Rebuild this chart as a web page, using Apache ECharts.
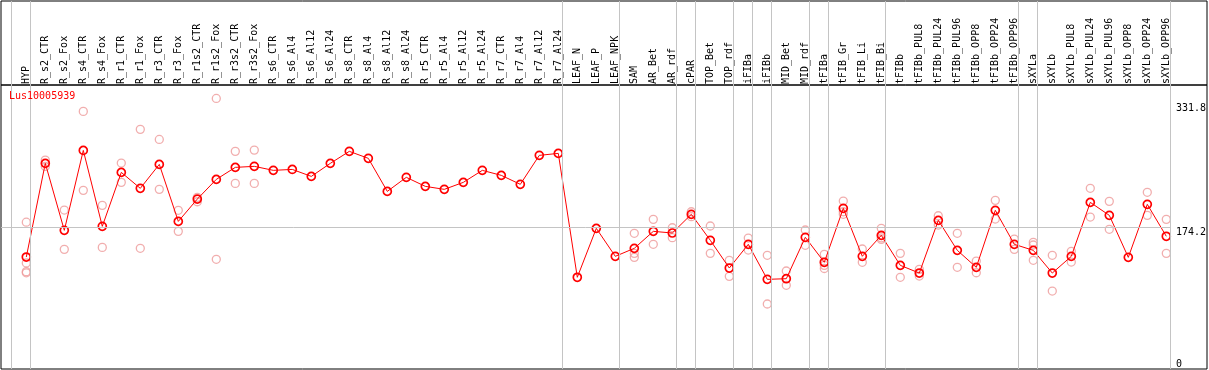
<!DOCTYPE html>
<html><head><meta charset="utf-8">
<script src="https://cdn.jsdelivr.net/npm/echarts@6/dist/echarts.min.js"></script>
<style>html,body{margin:0;padding:0;background:#fff}#c{width:1209px;height:370px}</style>
</head><body><div id="c"></div>
<script>
// ---------- data ----------
const chartTitle = 'Lus10005939';
const categories = ['HYP','R_s2_CTR','R_s2_Fox','R_s4_CTR','R_s4_Fox','R_r1_CTR','R_r1_Fox','R_r3_CTR','R_r3_Fox','R_r1s2_CTR','R_r1s2_Fox','R_r3s2_CTR','R_r3s2_Fox','R_s6_CTR','R_s6_Al4','R_s6_Al12','R_s6_Al24','R_s8_CTR','R_s8_Al4','R_s8_Al12','R_s8_Al24','R_r5_CTR','R_r5_Al4','R_r5_Al12','R_r5_Al24','R_r7_CTR','R_r7_Al4','R_r7_Al12','R_r7_Al24','LEAF_N','LEAF_P','LEAF_NPK','SAM','AR_Bet','AR_rdf','cPAR','TOP_Bet','TOP_rdf','iFIBa','iFIBb','MID_Bet','MID_rdf','tFIBa','tFIB_Gr','tFIB_Li','tFIB_Bi','tFIBb','tFIBb_PUL8','tFIBb_PUL24','tFIBb_PUL96','tFIBb_OPP8','tFIBb_OPP24','tFIBb_OPP96','sXYLa','sXYLb','sXYLb_PUL8','sXYLb_PUL24','sXYLb_PUL96','sXYLb_OPP8','sXYLb_OPP24','sXYLb_OPP96'];
const means = [136.6,255.9,170.6,272.4,175.7,244.4,224.1,254.6,182.0,210.4,
  235.5,250.8,252.1,247.0,248.2,239.3,255.9,271.2,262.3,220.2,
  238.1,226.6,222.8,231.7,247.0,240.6,229.2,266.1,268.6,110.8,
  173.1,137.5,147.7,169.3,167.2,191.0,157.9,122.6,152.8,108.2,
  109.0,161.7,129.9,198.6,137.5,164.2,126.0,116.2,183.3,145.1,
  123.5,196.1,152.8,145.1,116.2,137.5,206.2,189.7,136.2,203.7,
  163.0];
const replicates = [
  [181,129,118,116.5],[260,252],[196.4,146.4],[322.1,221.5],[202.4,148.9],
  [256.3,231.7],[299.2,147.7],[286.4,222.8],[196.1,169.3],[212.6,207],
  [338.6,133.7],[271.2,230.4],[272.8,230.4],
  [],[],[],[],[],[],[],[],[],[],[],[],[],[],[],[],
  [],[],[],
  [166.8,141.3,136.2],[184.6,152.8],[173.9,161.2],[194.3,188],[176.1,141.3],
  [132.4,112.0],[160.8,145.5],[138.8,76.8],[118.8,100.6],[171.0,151.5],
  [140.0,126,122],[207.9,194.3,191.0],[146.8,129.9],[173.1,159.1,161],
  [141.3,110.8],[120.9,112.4],[189.2,177.3],[166.8,123.5],[131.5,116.6],
  [208.8,185.0],[159.5,146.4],[155.3,151.9,132.4],[138.8,93.3],[143.9,130.2],
  [224.1,187.5],[207.5,171.9],[],[219.0,189.7],[184.6,141.3]
];
const groupSizes = [1,28,3,3,1,2,1,1,2,1,3,7,1,7];
const yTickLabels = [0, 174.2, 331.8];
const refValue = 174.2;

// ---------- layout / style ----------
const FONT = 'DejaVu Sans Mono';
const X_MIN = -1.3316, X_MAX = 62.142;
const SEP_OFFSET = 0.21;
const Y_MIN = -6, Y_MAX = 355.7;
const GRAY = '#c4c4c4';

const seps = [-1 + SEP_OFFSET];
let acc = -1;
groupSizes.forEach(g => { acc += g; seps.push(acc + SEP_OFFSET); });
const sepLines = seps.map(v => ({ xAxis: v }));
const repPoints = [];
replicates.forEach((arr, i) => arr.forEach(v => repPoints.push([i, v])));

const chart = echarts.init(document.getElementById('c'), null, { renderer: 'canvas' });
const labelStyle = { fontFamily: FONT, fontSize: 10, color: '#000' };
const option = {
  animation: false,
  backgroundColor: '#fff',
  title: { text: chartTitle, left: 9, top: 91, padding: 0,
    textStyle: { fontFamily: FONT, fontSize: 10, fontWeight: 'normal', color: '#ff0000' } },
  grid: [
    { left: 1, right: 2, top: 1, height: 84, show: true, borderColor: '#000', borderWidth: 1, outerBoundsMode: 'none' },
    { left: 1, right: 2, top: 85, bottom: 1, show: true, borderColor: '#000', borderWidth: 1, outerBoundsMode: 'none' },
    { left: 16.8, right: 33.2, top: 85, bottom: 1, outerBoundsMode: 'none' }
  ],
  xAxis: [
    { type: 'value', gridIndex: 0, min: X_MIN, max: X_MAX, show: false },
    { type: 'value', gridIndex: 1, min: X_MIN, max: X_MAX, show: false },
    { type: 'category', gridIndex: 2, data: categories, position: 'top', boundaryGap: true,
      axisLine: { show: false }, axisTick: { show: false }, splitLine: { show: false },
      axisLabel: Object.assign({ interval: 0, rotate: 90, margin: 1, padding: [0, 0, 6, 0] }, labelStyle) }
  ],
  yAxis: [
    { type: 'value', gridIndex: 0, min: 0, max: 1, show: false },
    { type: 'value', gridIndex: 1, min: Y_MIN, max: Y_MAX, position: 'right', offset: -31,
      axisLine: { show: false }, axisTick: { show: false }, splitLine: { show: false },
      axisLabel: Object.assign({ customValues: yTickLabels.filter(v => v !== 0), margin: 0, verticalAlign: 'top', formatter: v => String(v) }, labelStyle) },
    { type: 'value', gridIndex: 1, min: Y_MIN, max: Y_MAX, position: 'right', offset: -31,
      axisLine: { show: false }, axisTick: { show: false }, splitLine: { show: false },
      axisLabel: Object.assign({ customValues: yTickLabels.filter(v => v === 0), margin: 0, verticalAlign: 'middle', formatter: v => String(v) }, labelStyle) },
    { type: 'value', gridIndex: 2, show: false }
  ],
  series: [
    { type: 'line', xAxisIndex: 0, yAxisIndex: 0, data: [], z: 1, silent: true,
      markLine: { silent: true, symbol: 'none', label: { show: false },
        lineStyle: { color: GRAY, width: 1, type: 'solid' }, emphasis: { disabled: true }, data: sepLines } },
    { type: 'line', xAxisIndex: 1, yAxisIndex: 1, data: [], z: 1, silent: true,
      markLine: { silent: true, symbol: 'none', label: { show: false },
        lineStyle: { color: GRAY, width: 1, type: 'solid' }, emphasis: { disabled: true },
        data: sepLines.concat([[{ coord: [X_MIN, refValue] }, { coord: [seps[seps.length - 1], refValue] }]]) } },
    { type: 'scatter', xAxisIndex: 1, yAxisIndex: 1, data: repPoints, symbol: 'circle', symbolSize: 8, z: 3, silent: true,
      itemStyle: { color: 'rgba(0,0,0,0)', borderColor: '#ee9a9a', borderWidth: 1.3 } },
    { type: 'line', xAxisIndex: 1, yAxisIndex: 1, data: means.map((v, i) => [i, v]), symbol: 'circle', symbolSize: 8, z: 4, silent: true,
      lineStyle: { color: '#ff0000', width: 1 },
      itemStyle: { color: 'rgba(0,0,0,0)', borderColor: '#ff0000', borderWidth: 1.7 } }
  ]
};
chart.setOption(option);
</script>
</body></html>
